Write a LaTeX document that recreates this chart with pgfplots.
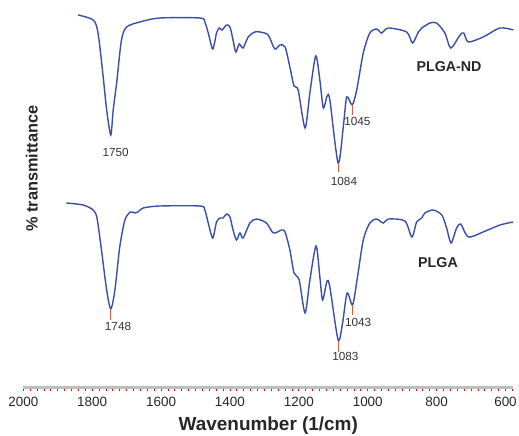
\documentclass[border=0pt]{standalone}
\usepackage{fontspec}
\setmainfont{Liberation Sans}
\usepackage{pgfplots}
\pgfplotsset{compat=1.18}
\definecolor{spec}{RGB}{58,78,168}
\definecolor{peak}{RGB}{232,90,60}
\definecolor{axgray}{RGB}{190,190,190}
\begin{document}
\begin{tikzpicture}
\begin{axis}[
  scale only axis, width=490bp, height=387.3bp,
  x dir=reverse, xmin=577.4, xmax=2000, ymin=12.7, ymax=400,
  axis x line*=bottom, axis y line=none,
  x axis line style={draw=axgray, line width=2.5bp, -},
  xtick={600,800,...,2000},
  minor xtick={580,600,...,2000},
  xtick align=outside,
  major tick length=3.2bp, minor tick length=3.2bp,
  tick style={draw=red, line width=0.9bp},
  /pgf/number format/assume math mode=true,
  /pgf/number format/1000 sep={},
  ticklabel style={font=\fontsize{13.5}{14}\selectfont, text=black!85},
  xticklabel style={yshift=-3bp},
  xlabel={Wavenumber (1/cm)},
  xlabel style={font=\fontsize{19}{20}\selectfont\bfseries, text=black!85, yshift=-3bp},
  clip=false,
]
\addplot[spec, line width=1.4bp, smooth, tension=0.45] coordinates {
(1841,385) (1797,380) (1783,367) (1768,323) (1758,290) (1746,265) (1739,290)
(1729,317) (1715,360) (1700,373) (1662,378) (1604,382) (1487,382) (1473,378)
(1463,367) (1450,351) (1439,367) (1431,372) (1423,370) (1410,375) (1400,373)
(1391,360) (1383,348) (1373,356) (1362,352) (1347,363) (1328,368) (1313,368)
(1289,365) (1270,351) (1255,355) (1240,353) (1226,333) (1214,314) (1202,310)
(1182,272) (1168,307) (1151,344) (1139,320) (1129,292) (1118,304) (1110,300)
(1086,237) (1071,273) (1061,303) (1045,295) (1032,310) (1013,347) (994,367)
(974,371) (960,367) (940,372) (887,368) (870,357) (853,368) (843,372)
(819,377) (800,377) (776,367) (759,352) (732,365) (721,367) (708,358)
(665,363) (616,372) (577,370)
};
\addplot[spec, line width=1.4bp, smooth, tension=0.45] coordinates {
(1875,197) (1826,195) (1797,190) (1786,182) (1773,150) (1758,110) (1746,91)
(1734,110) (1720,153) (1705,180) (1689,188) (1676,187) (1667,188) (1652,192)
(1604,194) (1487,194) (1473,190) (1463,177) (1450,162) (1439,178) (1429,182)
(1420,182) (1410,186) (1400,183) (1391,170) (1381,160) (1371,167) (1362,162)
(1342,177) (1323,181) (1294,177) (1274,167) (1250,170) (1240,168) (1226,150)
(1214,127) (1199,120) (1182,87) (1168,120) (1150,154) (1139,123) (1131,100)
(1118,119) (1110,113) (1086,60) (1073,77) (1060,107) (1044,95) (1031,120)
(1013,160) (994,177) (974,181) (955,177) (940,181) (892,179) (872,163)
(858,178) (843,182) (834,187) (810,190) (785,185) (771,172) (758,157)
(742,172) (730,176) (708,163) (665,168) (616,175) (578,178)
};
% peak markers
\draw[peak, line width=1bp] (axis cs:1045,295) -- (axis cs:1045,285);
\draw[peak, line width=1bp] (axis cs:1086,237) -- (axis cs:1086,228);
\draw[peak, line width=1bp] (axis cs:1746,91) -- (axis cs:1746,80);
\draw[peak, line width=1bp] (axis cs:1086,59.3) -- (axis cs:1086,48.3);
\draw[peak, line width=1bp] (axis cs:1044,95) -- (axis cs:1044,85);
\begin{scope}[every node/.style={font=\fontsize{11.8}{12}\selectfont, text=black!80, inner sep=0pt}]
\node at (axis cs:1732,248) {1750};
\node at (axis cs:1069,218.3) {1084};
\node at (axis cs:1030,278.3) {1045};
\node at (axis cs:1725,73.3) {1748};
\node at (axis cs:1065,43.3) {1083};
\node at (axis cs:1028,77.3) {1043};
\end{scope}
\node[font=\fontsize{14.3}{15}\selectfont\bfseries, text=black!85, inner sep=0pt] at (axis cs:764,333) {PLGA-ND};
\node[font=\fontsize{14.3}{15}\selectfont\bfseries, text=black!85, inner sep=0pt] at (axis cs:796,137) {PLGA};
\node[rotate=90, font=\fontsize{16.4}{17}\selectfont\bfseries, text=black!85, inner sep=0pt] at (axis cs:1975,231.5) {\% transmittance};
\end{axis}
\pgfresetboundingbox
\path (-23.3bp,-48.7bp) rectangle (495.7bp,387.3bp);
\end{tikzpicture}
\end{document}
